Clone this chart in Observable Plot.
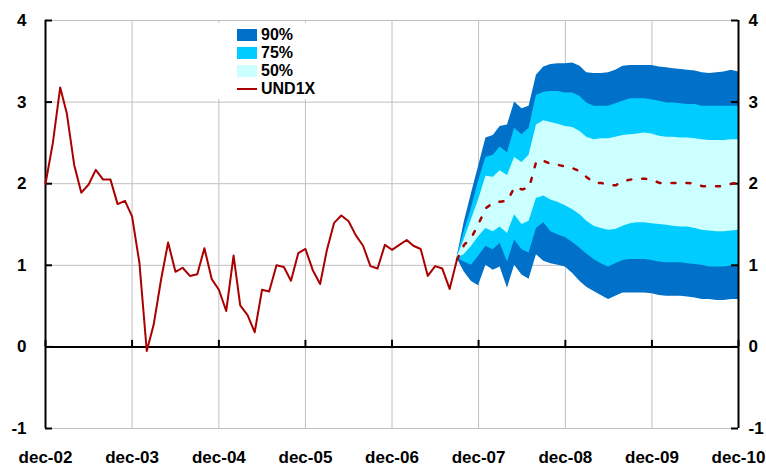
<!DOCTYPE html>
<html>
<head>
<meta charset="utf-8">
<script src="https://cdn.jsdelivr.net/npm/d3@7"></script>
<script src="https://cdn.jsdelivr.net/npm/@observablehq/plot@0.6"></script>
<style>
  body { margin: 0; background: #fff; font-family: "Liberation Sans", Arial, sans-serif; }
  #wrap { position: relative; width: 766px; height: 470px; }
  #legend {
    position: absolute; left: 216px; top: 23px; width: 118px; height: 76px;
    background: #fff; font-weight: bold; font-size: 16px; color: #000;
  }
  .row { position: absolute; left: 21px; height: 18px; line-height: 18px; }
  .sw { position: absolute; left: 0; top: 3px; width: 20px; height: 12px; }
  .ln { position: absolute; left: 0; top: 8px; width: 20px; height: 2px; background: #aa0000; }
  .lab { position: absolute; left: 24px; top: 0; white-space: nowrap; }
</style>
</head>
<body>
<div id="wrap">
  <div id="chart"></div>
  <div id="legend"></div>
</div>
<script>
// UND1X, monthly from dec-02 to sep-07
const history = [
  2.00, 2.50, 3.18, 2.86, 2.23, 1.89, 1.99, 2.17, 2.05, 2.05, 1.75, 1.79,
  1.60, 1.03, -0.05, 0.27, 0.82, 1.28, 0.92, 0.97, 0.87, 0.89, 1.21, 0.83,
  0.70, 0.44, 1.12, 0.51, 0.39, 0.18, 0.70, 0.68, 1.00, 0.98, 0.81, 1.15,
  1.20, 0.94, 0.77, 1.18, 1.52, 1.61, 1.54, 1.37, 1.24, 0.99, 0.96, 1.25,
  1.19, 1.25, 1.31, 1.24, 1.20, 0.87, 0.99, 0.96, 0.71, 1.07
];

// forecast, monthly from sep-07 to dec-10
const median = [
  1.07, 1.25, 1.34, 1.51, 1.70, 1.77, 1.78, 1.79, 1.96, 1.93, 1.95, 2.28,
  2.28, 2.24, 2.23, 2.21, 2.19, 2.15, 2.08, 2.01, 2.01, 1.98, 1.98, 2.03,
  2.05, 2.06, 2.06, 2.05, 2.01, 2.01, 2.01, 2.01, 2.01, 2.00, 1.97, 1.97,
  1.97, 1.97, 2.00, 2.01
];
const upper90 = [
  1.09, 1.52, 1.88, 2.21, 2.56, 2.59, 2.70, 2.72, 3.00, 2.92, 2.95, 3.33,
  3.43, 3.46, 3.47, 3.47, 3.48, 3.44, 3.36, 3.35, 3.35, 3.36, 3.39, 3.44,
  3.45, 3.45, 3.45, 3.45, 3.43, 3.42, 3.41, 3.40, 3.39, 3.38, 3.36, 3.35,
  3.36, 3.37, 3.39, 3.37
];
const upper75 = [
  1.09, 1.41, 1.70, 2.03, 2.32, 2.35, 2.45, 2.38, 2.68, 2.60, 2.68, 3.08,
  3.12, 3.13, 3.13, 3.11, 3.11, 3.07, 2.99, 2.95, 2.95, 2.95, 2.98, 3.01,
  3.04, 3.04, 3.04, 3.03, 3.01, 2.99, 2.99, 2.98, 2.97, 2.97, 2.95, 2.95,
  2.95, 2.95, 2.95, 2.95
];
const upper50 = [
  1.09, 1.31, 1.56, 1.80, 2.09, 2.08, 2.16, 2.10, 2.32, 2.26, 2.35, 2.72,
  2.77, 2.75, 2.73, 2.70, 2.69, 2.64, 2.57, 2.54, 2.55, 2.55, 2.57, 2.59,
  2.60, 2.61, 2.62, 2.61, 2.58, 2.57, 2.57, 2.56, 2.56, 2.55, 2.54, 2.53,
  2.53, 2.53, 2.54, 2.54
];
const lower50 = [
  1.09, 1.13, 1.23, 1.35, 1.45, 1.41, 1.47, 1.39, 1.62, 1.50, 1.54, 1.82,
  1.85, 1.80, 1.77, 1.73, 1.68, 1.62, 1.54, 1.48, 1.45, 1.43, 1.44, 1.48,
  1.51, 1.52, 1.52, 1.51, 1.50, 1.49, 1.48, 1.47, 1.47, 1.45, 1.43, 1.42,
  1.41, 1.41, 1.42, 1.43
];
const lower75 = [
  1.09, 1.04, 1.00, 1.11, 1.23, 1.19, 1.27, 1.04, 1.31, 1.19, 1.15, 1.45,
  1.52, 1.41, 1.37, 1.34, 1.28, 1.21, 1.14, 1.07, 1.02, 0.98, 1.02, 1.06,
  1.07, 1.07, 1.07, 1.06, 1.04, 1.03, 1.03, 1.03, 1.02, 1.01, 1.00, 0.98,
  0.98, 0.98, 0.99, 1.00
];
const lower90 = [
  1.09, 0.92, 0.80, 0.75, 1.00, 0.94, 0.98, 0.72, 1.00, 0.88, 0.83, 1.13,
  1.05, 1.02, 1.00, 0.98, 0.90, 0.80, 0.73, 0.68, 0.63, 0.58, 0.62, 0.66,
  0.66, 0.66, 0.66, 0.65, 0.63, 0.62, 0.62, 0.62, 0.61, 0.60, 0.58, 0.58,
  0.57, 0.57, 0.58, 0.58
];

const xLabels = ["dec-02", "dec-03", "dec-04", "dec-05", "dec-06", "dec-07", "dec-08", "dec-09", "dec-10"];
const yTicks = [-1, 0, 1, 2, 3, 4];

const bands = [
  { name: "90%", color: "#0070c8" },
  { name: "75%", color: "#00ccff" },
  { name: "50%", color: "#ccffff" }
];
const lineColor = "#aa0000";

const month = (y, m) => new Date(Date.UTC(y, m, 1));
const hist = history.map((v, i) => ({ date: month(2002, 11 + i), v }));
const fan = median.map((v, i) => ({
  date: month(2007, 8 + i), m: v,
  u90: upper90[i], u75: upper75[i], u50: upper50[i],
  l50: lower50[i], l75: lower75[i], l90: lower90[i]
}));
const xTicks = xLabels.map((_, i) => month(2002 + i, 11));
const xStart = xTicks[0], xEnd = xTicks[xTicks.length - 1];

const font = "Liberation Sans, Arial, sans-serif";
const axisText = { fontSize: 17, fontWeight: "bold", fill: "#000", label: null, tickSize: 0 };

const chart = Plot.plot({
  width: 766,
  height: 470,
  marginLeft: 45,
  marginRight: 28,
  marginTop: 20,
  marginBottom: 42,
  style: { fontFamily: font, background: "#fff", overflow: "visible" },
  x: { type: "utc", domain: [xStart, xEnd] },
  y: { domain: [-1, 4] },
  marks: [
    Plot.gridX(xTicks, { stroke: "#c0c0c0", strokeOpacity: 1 }),
    Plot.gridY(yTicks.filter(d => d !== 0), { stroke: "#c0c0c0", strokeOpacity: 1 }),
    Plot.areaY(fan, { x: "date", y1: "l90", y2: "u90", fill: bands[0].color }),
    Plot.areaY(fan, { x: "date", y1: "l75", y2: "u75", fill: bands[1].color }),
    Plot.areaY(fan, { x: "date", y1: "l50", y2: "u50", fill: bands[2].color }),
    Plot.ruleY([0], { stroke: "#000", strokeWidth: 2 }),
    Plot.ruleX(xTicks, { y1: 0, y2: 0.08, stroke: "#000", strokeWidth: 2 }),
    Plot.ruleX([xStart, xEnd], { stroke: "#000", strokeWidth: 2 }),
    Plot.tickY(yTicks, { y: d => d, stroke: "#000", strokeWidth: 2, insetRight: 686 }),
    Plot.tickY(yTicks, { y: d => d, stroke: "#000", strokeWidth: 2, insetLeft: 686 }),
    Plot.axisY(yTicks, { ...axisText, anchor: "left", tickPadding: 19, tickFormat: d => String(d) }),
    Plot.axisY(yTicks, { ...axisText, anchor: "right", tickPadding: 10, tickFormat: d => String(d) }),
    Plot.axisX(xTicks, { ...axisText, anchor: "bottom", tickPadding: 22, tickFormat: (d, i) => xLabels[i] }),
    Plot.line(hist, { x: "date", y: "v", stroke: lineColor, strokeWidth: 2 }),
    Plot.line(fan, { x: "date", y: "m", stroke: lineColor, strokeWidth: 2.5, strokeDasharray: "4,11" })
  ]
});
document.getElementById("chart").append(chart);

// legend
const legend = document.getElementById("legend");
bands.forEach((b, i) => {
  const row = document.createElement("div");
  row.className = "row";
  row.style.top = (3 + i * 18) + "px";
  row.innerHTML = `<div class="sw" style="background:${b.color}"></div><div class="lab">${b.name}</div>`;
  legend.append(row);
});
const lrow = document.createElement("div");
lrow.className = "row";
lrow.style.top = (3 + 3 * 18) + "px";
lrow.innerHTML = `<div class="ln"></div><div class="lab">UND1X</div>`;
legend.append(lrow);
</script>
</body>
</html>
